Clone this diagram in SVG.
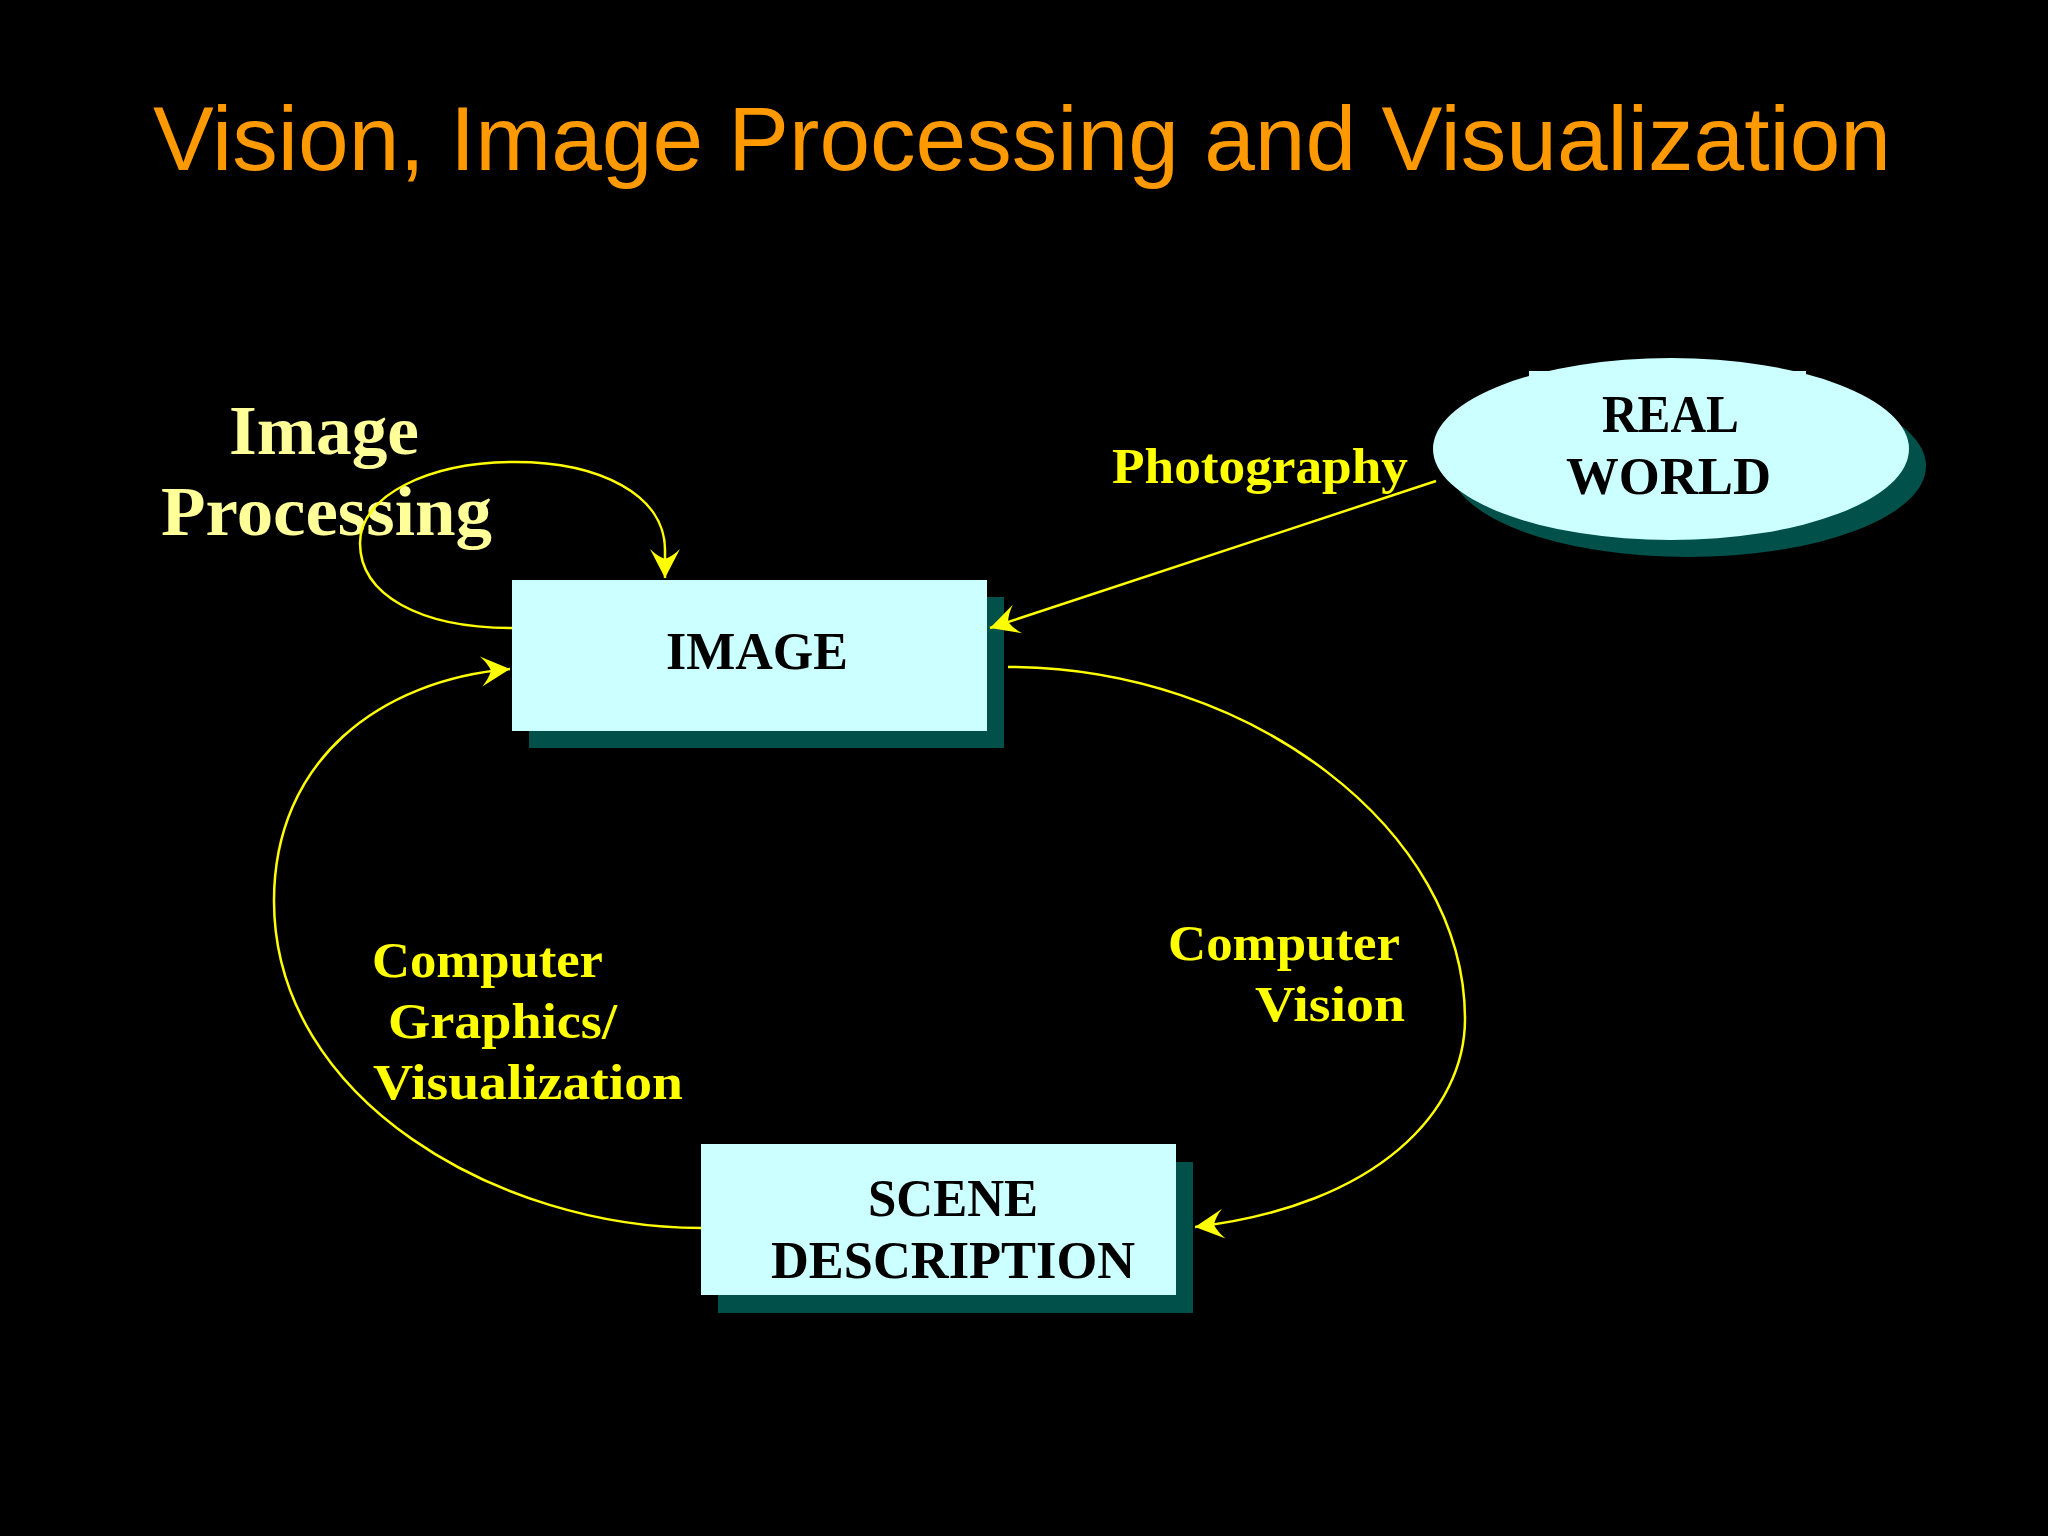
<svg xmlns="http://www.w3.org/2000/svg" width="2048" height="1536" viewBox="0 0 2048 1536">
<defs>
<style>
.node{font-family:"Liberation Serif","Times New Roman",serif;font-weight:bold;font-size:52px;fill:#000}
.lbl{font-family:"Liberation Serif","Times New Roman",serif;font-weight:bold;font-size:50px;fill:#FFFF00}
.ip{font-family:"Liberation Serif","Times New Roman",serif;font-weight:bold;font-size:70px;fill:#FFFF99}
.title{font-family:"Liberation Sans",Arial,sans-serif;font-size:91px;fill:#FF9900}
.box{fill:#CCFFFF}
.shadow{fill:#01504A}
.conn{fill:none;stroke:#FFFF00;stroke-width:2.5}
</style>
<marker id="arr" viewBox="0 -16 32 32" refX="30" refY="0" markerWidth="32" markerHeight="32" markerUnits="userSpaceOnUse" orient="auto">
<path d="M30 0 L1 -15 Q8 -8 11 0 Q8 8 1 15 Z" fill="#FFFF00"/>
</marker>
</defs>
<rect width="2048" height="1536" fill="#000"/>
<text class="title" x="153" y="170" textLength="1738" lengthAdjust="spacingAndGlyphs">Vision, Image Processing and Visualization</text>

<g id="image">
<rect class="shadow" x="529" y="597" width="475" height="151"/>
<rect class="box" x="512" y="580" width="475" height="151"/>
<text class="node" x="666" y="669" textLength="182" lengthAdjust="spacingAndGlyphs">IMAGE</text>
</g>

<g id="scene-description">
<rect class="shadow" x="718" y="1162" width="475" height="151"/>
<rect class="box" x="701" y="1144" width="475" height="151"/>
<text class="node" x="868" y="1216" textLength="170" lengthAdjust="spacingAndGlyphs">SCENE</text>
<text class="node" x="771" y="1278" textLength="364" lengthAdjust="spacingAndGlyphs">DESCRIPTION</text>
</g>

<g id="real-world">
<ellipse class="shadow" cx="1688" cy="466" rx="238" ry="91"/>
<ellipse class="box" cx="1671" cy="449" rx="238" ry="91"/>
<rect class="box" x="1529" y="371" width="277" height="40"/>
<text class="node" x="1602" y="432" textLength="137" lengthAdjust="spacingAndGlyphs">REAL</text>
<text class="node" x="1566" y="494" textLength="205" lengthAdjust="spacingAndGlyphs">WORLD</text>
</g>

<g id="labels">
<text class="ip" x="229" y="454" textLength="190" lengthAdjust="spacingAndGlyphs">Image</text>
<text class="ip" x="161" y="535" textLength="331" lengthAdjust="spacingAndGlyphs">Processing</text>
<text class="lbl" x="1112" y="483" textLength="296" lengthAdjust="spacingAndGlyphs">Photography</text>
<text class="lbl" x="1168" y="960" textLength="232" lengthAdjust="spacingAndGlyphs">Computer</text>
<text class="lbl" x="1255" y="1021" textLength="150" lengthAdjust="spacingAndGlyphs">Vision</text>
<text class="lbl" x="372" y="977" textLength="231" lengthAdjust="spacingAndGlyphs">Computer</text>
<text class="lbl" x="388" y="1038" textLength="229" lengthAdjust="spacingAndGlyphs">Graphics/</text>
<text class="lbl" x="373" y="1099" textLength="310" lengthAdjust="spacingAndGlyphs">Visualization</text>
</g>

<g id="connectors">
<path class="conn" d="M512 628 C420 628 360 595 360 543 C360 495 430 462 515 462 C600 462 665 495 665 550 L665 578" marker-end="url(#arr)"/>
<path class="conn" d="M1436 481 L990 628" marker-end="url(#arr)"/>
<path class="conn" d="M1008 667 C1250 667 1465 830 1465 1019 C1465 1110 1380 1205 1195 1227" marker-end="url(#arr)"/>
<path class="conn" d="M701 1228 C500 1228 274 1100 274 901 C274 760 380 680 510 669" marker-end="url(#arr)"/>
</g>
</svg>
